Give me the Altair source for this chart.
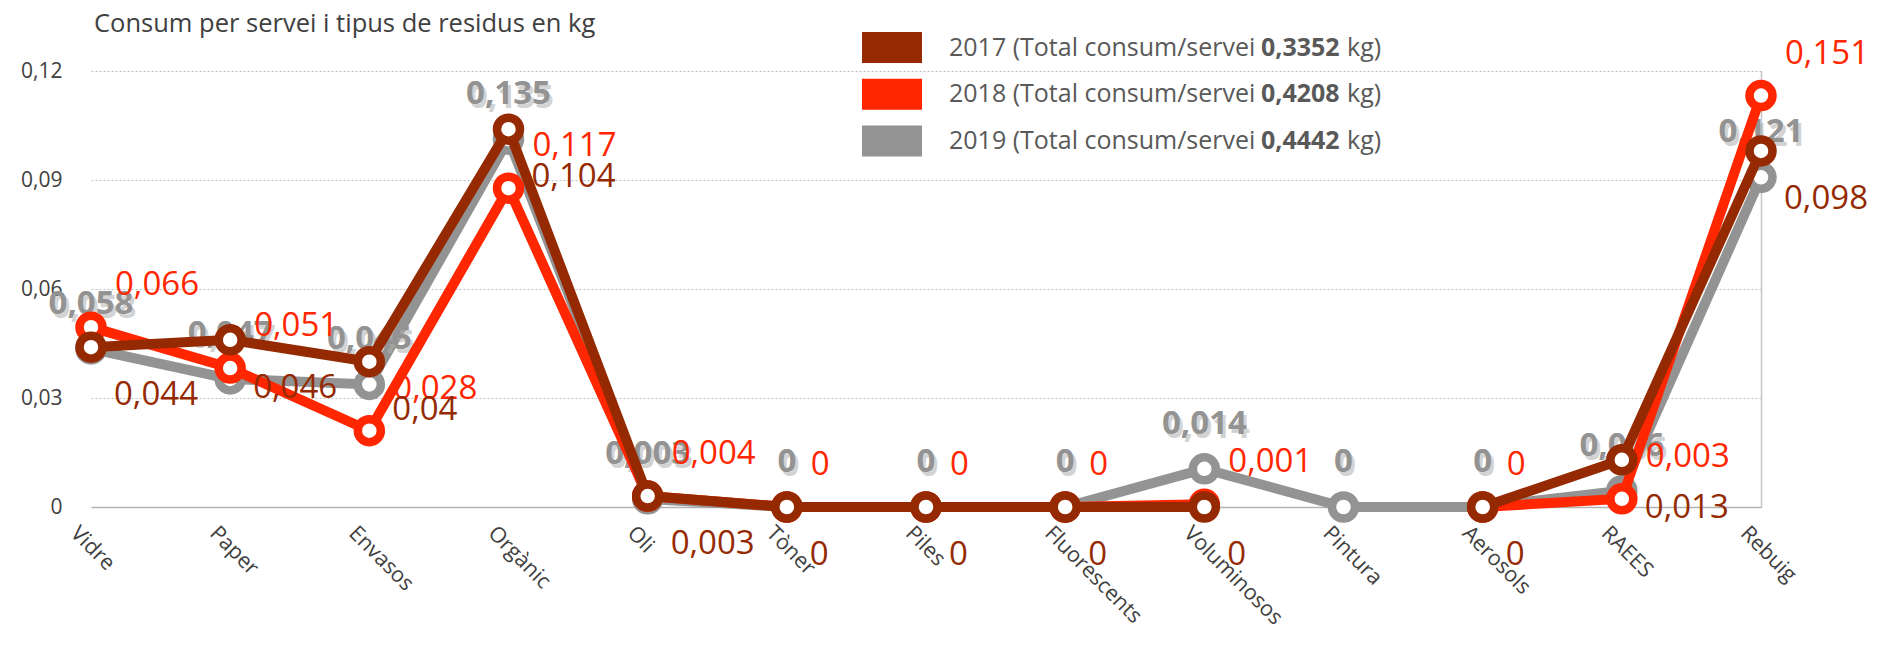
import altair as alt
import pandas as pd

FONT = "Open Sans"

categories = ["Vidre", "Paper", "Envasos", "Orgànic", "Oli", "Tòner", "Piles",
              "Fluorescents", "Voluminosos", "Pintura", "Aerosols", "RAEES", "Rebuig"]
v2017 = [0.044, 0.046, 0.04, 0.104, 0.003, 0, 0, 0, 0, None, 0, 0.013, 0.098]
v2018 = [0.066, 0.051, 0.028, 0.117, 0.004, 0, 0, 0, 0.001, None, 0, 0.003, 0.151]
v2019 = [0.058, 0.047, 0.045, 0.135, 0.003, 0, 0, 0, 0.014, 0, 0, 0.006, 0.121]
years = ["2017", "2018", "2019"]
totals = ["0,3352", "0,4208", "0,4442"]
colors = ["#952a02", "#ff2600", "#939393"]
left_ticks = [0, 0.03, 0.06, 0.09, 0.12]
title_text = "Consum per servei i tipus de residus en kg"
TEXT_COLOR = "#404040"
LABEL_SIZE = 33


def series_df(vals):
    rows, seg = [], 0
    for c, v in zip(categories, vals):
        if v is None:
            seg += 1
            continue
        rows.append({"cat": c, "value": v, "seg": seg,
                     "label": f"{v:g}".replace(".", ",")})
    return pd.DataFrame(rows)


x_enc = alt.X("cat:N", sort=categories, title=None,
              scale=alt.Scale(type="point", padding=0),
              axis=alt.Axis(labelAngle=45, labelAlign="left", labelBaseline="top",
                            labelFontSize=21.5, labelColor=TEXT_COLOR, labelFont=FONT,
                            ticks=False, grid=False, domain=True,
                            domainColor="#b3b3b3", domainWidth=1.5,
                            labelPadding=15, labelOffset=-10))

y_left = alt.Y("value:Q", title=None,
               scale=alt.Scale(domain=[0, 0.12], nice=False),
               axis=alt.Axis(orient="left", values=left_ticks,
                             labelExpr="replace(format(datum.value, '.2~f'), '.', ',')",
                             domain=False, ticks=False, grid=True,
                             gridColor="#bdbdbd", gridDash=[2, 2], gridWidth=1,
                             labelFontSize=21, labelColor=TEXT_COLOR, labelFont=FONT,
                             labelPadding=29))

y_right = alt.Y("value:Q", title=None,
                scale=alt.Scale(domain=[0, 0.16], nice=False),
                axis=alt.Axis(orient="right", labels=False, ticks=False, grid=False,
                              domain=True, domainColor="#c6c6c6", domainWidth=1.5))


def series_layers(vals, color, y_enc, kind):
    df = series_df(vals)
    base = alt.Chart(df).encode(x=x_enc, y=y_enc)
    line = base.mark_line(color=color, strokeWidth=10).encode(detail="seg:N")
    pts = base.mark_point(shape="circle", filled=True, fill="white", stroke=color,
                          strokeWidth=8.5, size=529, opacity=1)
    layers = [line, pts]
    if kind == "below":
        layers.append(base.mark_text(align="left", baseline="middle", dx=23, dy=48,
                                     fontSize=LABEL_SIZE, font=FONT, color=color)
                      .encode(text="label:N"))
    elif kind == "above":
        layers.append(base.mark_text(align="left", baseline="middle", dx=24, dy=-42,
                                     fontSize=LABEL_SIZE, font=FONT, color=color)
                      .encode(text="label:N"))
    else:
        layers.append(base.mark_text(align="center", baseline="middle", dx=3, dy=-41,
                                     fontSize=LABEL_SIZE, font=FONT, fontWeight="bold",
                                     color="#b0b0b0", opacity=0.55)
                      .encode(text="label:N"))
        layers.append(base.mark_text(align="center", baseline="middle", dx=0, dy=-45,
                                     fontSize=LABEL_SIZE, font=FONT, fontWeight="bold",
                                     color=color)
                      .encode(text="label:N"))
    return layers


secondary = alt.layer(*series_layers(v2019, colors[2], y_right, "center"),
                      *series_layers(v2018, colors[1], y_right, "above"))
primary = alt.layer(*series_layers(v2017, colors[0], y_left, "below"))

leg_df = pd.DataFrame({"year": years, "total": totals})
leg_base = (alt.Chart(leg_df)
            .transform_window(idx="row_number()")
            .transform_calculate(ypix="-23.5 + (datum.idx - 1) * 46.8",
                                 y1="-23.5 + (datum.idx - 1) * 46.8 - 15.5",
                                 y2="-23.5 + (datum.idx - 1) * 46.8 + 15.5",
                                 t1="datum.year + ' (Total consum/servei'"))
leg_color = alt.Color("year:N", scale=alt.Scale(domain=years, range=colors), legend=None)
leg_rect = leg_base.mark_rect().encode(
    x=alt.value(771), x2=alt.value(831),
    y=alt.Y("y1:Q", scale=None), y2="y2:Q", color=leg_color)
leg_t1 = leg_base.mark_text(align="left", baseline="middle", fontSize=25, font=FONT,
                            color="#595959").encode(
    x=alt.value(858), y=alt.Y("ypix:Q", scale=None), text="t1:N")
leg_t2 = leg_base.mark_text(align="left", baseline="middle", fontSize=25, font=FONT,
                            fontWeight="bold", color="#595959").encode(
    x=alt.value(1170), y=alt.Y("ypix:Q", scale=None), text="total:N")
leg_t3 = leg_base.mark_text(align="left", baseline="middle", fontSize=25, font=FONT,
                            color="#595959").encode(
    x=alt.value(1256), y=alt.Y("ypix:Q", scale=None), text=alt.value("kg)"))

title_layer = alt.Chart(pd.DataFrame({"t": [title_text]})).mark_text(
    align="left", baseline="middle", fontSize=25.5, font=FONT, color=TEXT_COLOR
).encode(x=alt.value(3), y=alt.value(-47), text="t:N")

chart = (alt.layer(secondary, primary, leg_rect, leg_t1, leg_t2, leg_t3, title_layer)
         .resolve_scale(y="independent")
         .properties(width=1670, height=436,
                     autosize=alt.AutoSizeParams(type="none"),
                     padding={"left": 83, "top": 63, "right": 125, "bottom": 129})
         .configure_view(stroke=None))

chart.save("out.html", embed_options={"renderer": "svg", "actions": False})
